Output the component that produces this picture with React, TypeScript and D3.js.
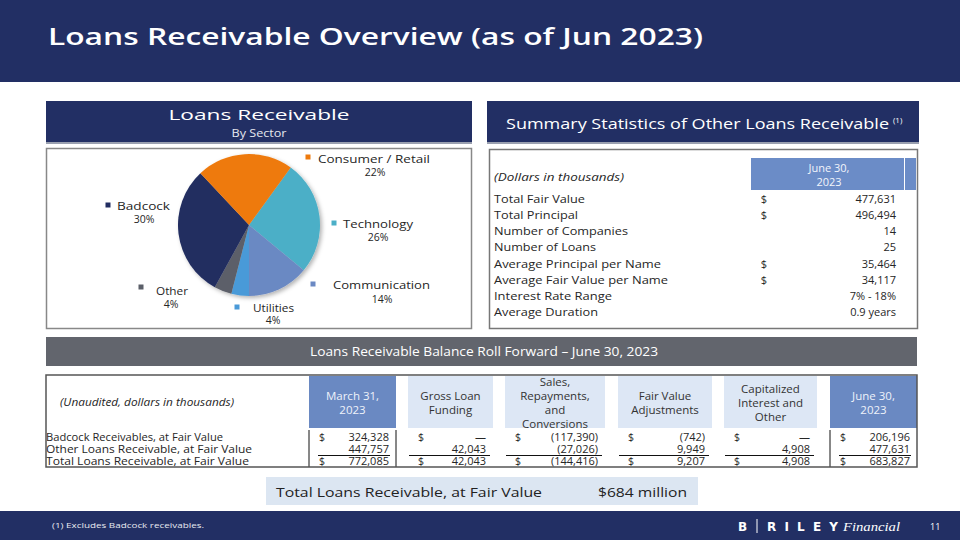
import React from "react";
import * as d3 from "d3";

// pie data (clockwise from the Technology slice)
const sectorNames = ["Technology", "Communication", "Utilities", "Other", "Badcock", "Consumer / Retail"];
const sectorShares = [26, 14, 4, 4, 30, 22];
const sectorColors = ["#4BAFC7", "#6B89C3", "#4A9AD8", "#5B5F69", "#212D61", "#EE7A0D"];

// summary statistics
const statLabels = [
  "Total Fair Value",
  "Total Principal",
  "Number of Companies",
  "Number of Loans",
  "Average Principal per Name",
  "Average Fair Value per Name",
  "Interest Rate Range",
  "Average Duration",
];
const statHasDollar = [true, true, false, false, true, true, false, false];
const statValues = ["477,631", "496,494", "14", "25", "35,464", "34,117", "7% - 18%", "0.9 years"];

// roll forward table
const rollHeaders = [
  ["March 31,", "2023"],
  ["Gross Loan", "Funding"],
  ["Sales,", "Repayments,", "and", "Conversions"],
  ["Fair Value", "Adjustments"],
  ["Capitalized", "Interest and", "Other"],
  ["June 30,", "2023"],
];
const rollRowLabels = [
  "Badcock Receivables, at Fair Value",
  "Other Loans Receivable, at Fair Value",
  "Total Loans Receivable, at Fair Value",
];
const badcockValues = [324328, 0, -117390, -742, 0, 206196];
const otherValues = [447757, 42043, -27026, 9949, 4908, 477631];
const totalValues = [772085, 42043, -144416, 9207, 4908, 683827];

const NAVY = "#222F64";
const FONT = "'Open Sans', 'DejaVu Sans', sans-serif";
const TXT = "#262626";

// label anchors for the pie, same order as sectorNames
const pieLabelPos = [
  { sq: [334, 223], name: [343, 228], pct: [378, 241], w: 70 },
  { sq: [313, 284], name: [333, 289], pct: [382, 303], w: 97 },
  { sq: [237, 307], name: [253, 312], pct: [273, 324], w: 41 },
  { sq: [141, 287], name: [156, 295], pct: [171, 308], w: 32 },
  { sq: [108, 205], name: [117, 210], pct: [144, 223], w: 53 },
  { sq: [308, 157], name: [318, 163], pct: [375, 176], w: 112 },
];
const statLabelW = [91, 84, 134, 102, 167, 174, 118, 104];

const rollCols = [
  [309, 396],
  [408, 493],
  [505, 605],
  [618, 712],
  [724, 817],
  [830, 917],
];
const rollDark = [true, false, false, false, false, true];

const fmt = d3.format(",");
const fmtVal = (v: number) => (v === 0 ? "—" : v < 0 ? `(${fmt(-v)})` : fmt(v));

const T = ({ x, y, size, w, anchor = "start", fill = TXT, weight = 400, italic = false, children }: any) => (
  <text
    x={x}
    y={y}
    fontSize={size}
    fontFamily={FONT}
    fontWeight={weight}
    fontStyle={italic ? "italic" : "normal"}
    fill={fill}
    textAnchor={anchor}
    textLength={w}
    lengthAdjust={w ? "spacingAndGlyphs" : undefined}
  >
    {children}
  </text>
);

const PieChart = () => {
  const cx = 249;
  const cy = 225;
  const r = 71;
  const start = (36 * Math.PI) / 180;
  const pie = d3
    .pie<number>()
    .sort(null)
    .startAngle(start)
    .endAngle(start + 2 * Math.PI);
  const arc = d3.arc<d3.PieArcDatum<number>>().innerRadius(0).outerRadius(r);
  const slices = pie(sectorShares);
  return (
    <g>
      <g transform={`translate(${cx},${cy})`} filter="url(#pieShadow)">
        {slices.map((s, i) => (
          <path key={i} d={arc(s) || ""} fill={sectorColors[i]} />
        ))}
      </g>
      {sectorNames.map((n, i) => {
        const p = pieLabelPos[i];
        return (
          <g key={n}>
            <rect x={p.sq[0] - 2.5} y={p.sq[1] - 2.5} width={5} height={5} fill={sectorColors[i]} />
            <T x={p.name[0]} y={p.name[1]} size={10.5} w={p.w}>
              {n}
            </T>
            <T x={p.pct[0]} y={p.pct[1]} size={10.5} anchor="middle">
              {sectorShares[i]}%
            </T>
          </g>
        );
      })}
    </g>
  );
};

const StatsPanel = () => {
  const rowY = (i: number) => 203 + i * 16.15;
  return (
    <g>
      <rect x={751} y={158} width={153} height={32} fill="#6B8CC7" />
      <rect x={905} y={158} width={11} height={32} fill="#6B8CC7" />
      <T x={829} y={172} size={11} anchor="middle" fill="#F2F5FB">
        June 30,
      </T>
      <T x={829} y={186} size={11} anchor="middle" fill="#F2F5FB">
        2023
      </T>
      <T x={494} y={181} size={11} italic w={130}>
        (Dollars in thousands)
      </T>
      {statLabels.map((l, i) => (
        <g key={l}>
          <T x={494} y={rowY(i)} size={10.5} w={statLabelW[i]}>
            {l}
          </T>
          {statHasDollar[i] && (
            <T x={764} y={rowY(i)} size={11} anchor="middle">
              $
            </T>
          )}
          <T x={896} y={rowY(i)} size={11} anchor="end">
            {statValues[i]}
          </T>
        </g>
      ))}
    </g>
  );
};

const RollTable = () => {
  const rows = [badcockValues, otherValues, totalValues];
  const rowY = [441, 453, 465];
  return (
    <g>
      {rollCols.map(([x0, x1], c) => (
        <g key={c}>
          <rect x={x0} y={376} width={x1 - x0} height={52} fill={rollDark[c] ? "#6A89C2" : "#DDE7F5"} />
          {rollHeaders[c].map((line, k) => (
            <T
              key={k}
              x={(x0 + x1) / 2}
              y={403 - ((rollHeaders[c].length - 1) * 14) / 2 + k * 14 + 4}
              size={11.5}
              anchor="middle"
              fill={rollDark[c] ? "#EEF2FA" : "#333"}
            >
              {line}
            </T>
          ))}
          {rows.map((vals, r) => (
            <g key={r}>
              {r !== 1 && (
                <T x={x0 + 13} y={rowY[r]} size={10.5} anchor="middle">
                  $
                </T>
              )}
              <T x={x1 - 7} y={rowY[r]} size={11} anchor="end">
                {fmtVal(vals[c])}
              </T>
            </g>
          ))}
          <line
            x1={x0 + (rollDark[c] ? 9 : 1)}
            x2={x1 - (rollDark[c] ? 6 : 3)}
            y1={455.5}
            y2={455.5}
            stroke="#111"
            strokeWidth={1}
          />
        </g>
      ))}
      <T x={60} y={406} size={10.5} italic w={174}>
        (Unaudited, dollars in thousands)
      </T>
      {rollRowLabels.map((l, r) => (
        <T key={l} x={46} y={rowY[r]} size={10.5} w={[177, 206, 203][r]}>
          {l}
        </T>
      ))}
      {[309, 396, 830].map((x) => (
        <line key={x} x1={x} x2={x} y1={430} y2={467} stroke="#111" strokeWidth={1} />
      ))}
      <rect x={46} y={375} width={871} height={92} fill="none" stroke="#555" strokeWidth={1.5} />
    </g>
  );
};

export default function App() {
  return (
    <svg
      width={960}
      height={540}
      viewBox="0 0 960 540"
      style={{ position: "absolute", left: 0, top: 0, background: "#fff" }}
    >
      <defs>
        <filter id="pieShadow" x="-20%" y="-20%" width="140%" height="140%">
          <feDropShadow dx={2} dy={2} stdDeviation={2} floodColor="#000" floodOpacity={0.3} />
        </filter>
      </defs>

      {/* title bar */}
      <rect x={0} y={0} width={960} height={82} fill={NAVY} />
      <T x={48} y={45} size={24} weight={600} fill="#fff" w={655}>
        Loans Receivable Overview (as of Jun 2023)
      </T>

      {/* left panel */}
      <rect x={46} y={101} width={426} height={42} fill={NAVY} />
      <rect x={46} y={142} width={426} height={2} fill="#9AA0B0" />
      <T x={259} y={120} size={15} anchor="middle" fill="#fff" w={181}>
        Loans Receivable
      </T>
      <T x={259} y={137} size={10} anchor="middle" fill="#E6E8EE" w={55}>
        By Sector
      </T>
      <rect x={46.5} y={148.5} width={425} height={180} fill="#fff" stroke="#888" strokeWidth={1.5} />
      <PieChart />

      {/* right panel */}
      <rect x={487} y={101} width={432} height={42} fill={NAVY} />
      <rect x={487} y={142} width={432} height={2} fill="#9AA0B0" />
      <T x={506} y={129} size={15} fill="#fff" w={383}>
        Summary Statistics of Other Loans Receivable
      </T>
      <T x={893} y={123} size={8} fill="#fff">
        (1)
      </T>
      <rect x={489.5} y={149.5} width={428} height={179} fill="none" stroke="#777" strokeWidth={1.5} />
      <StatsPanel />

      {/* roll forward */}
      <rect x={46} y={337} width={871} height={29} fill="#62656D" />
      <T x={484} y={356} size={12} anchor="middle" fill="#fff" w={348}>
        Loans Receivable Balance Roll Forward – June 30, 2023
      </T>
      <RollTable />

      {/* total box */}
      <rect x={266} y={477} width={432} height={28} fill="#DCE6F2" />
      <T x={276} y={497} size={13.5} fill="#222" w={266}>
        Total Loans Receivable, at Fair Value
      </T>
      <T x={598} y={497} size={13.5} fill="#222" w={89}>
        $684 million
      </T>

      {/* footer */}
      <rect x={0} y={511} width={960} height={29} fill={NAVY} />
      <T x={52} y={528} size={8} fill="#E8EAF0" w={152}>
        (1) Excludes Badcock receivables.
      </T>
      <text x={738} y={531} fontSize={12} fontFamily="'DejaVu Sans', sans-serif" fontWeight={700} fill="#fff">
        B
      </text>
      <line x1={757} x2={757} y1={519} y2={533} stroke="#fff" strokeWidth={1} />
      <text
        x={767}
        y={531}
        fontSize={12}
        fontFamily="'DejaVu Sans', sans-serif"
        fontWeight={700}
        fill="#fff"
        textLength={71}
        lengthAdjust="spacing"
      >
        RILEY
      </text>
      <text
        x={843}
        y={531}
        fontSize={13}
        fontFamily="'Liberation Serif', serif"
        fontStyle="italic"
        fill="#fff"
        textLength={57}
        lengthAdjust="spacingAndGlyphs"
      >
        Financial
      </text>
      <T x={930} y={530} size={9} fill="#fff">
        11
      </T>
    </svg>
  );
}
